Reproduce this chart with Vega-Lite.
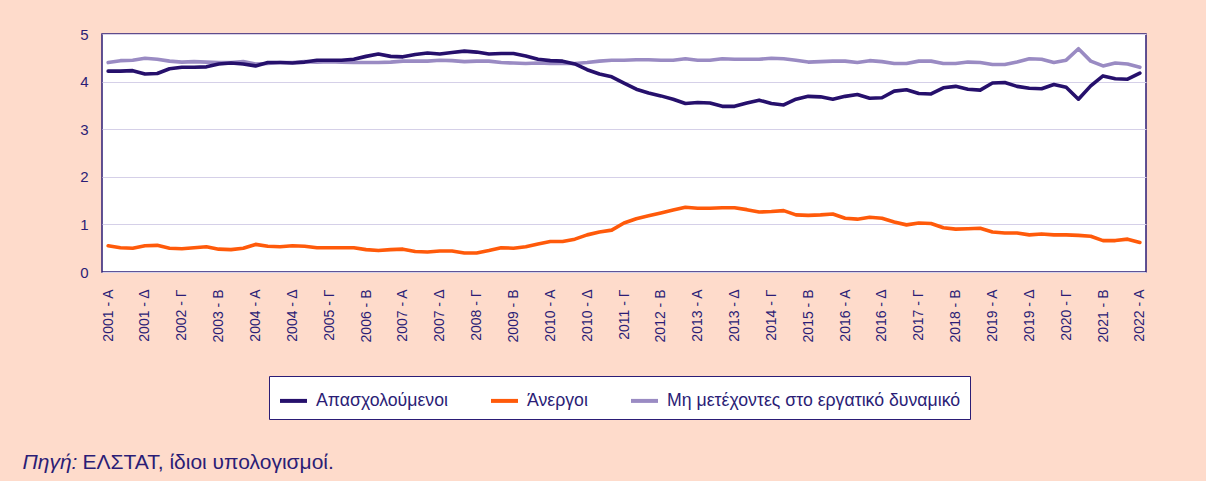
{
  "$schema": "https://vega.github.io/schema/vega-lite/v6.json",
  "width": 1044,
  "height": 238,
  "autosize": {"type": "none"},
  "padding": {"left": 102, "top": 34, "right": 60, "bottom": 209},
  "background": "#fedbcb",
  "data": {"values": [
    {"q": "2001 - Α", "Απασχολούμενοι": 4.22, "Άνεργοι": 0.55, "Μη μετέχοντες στο εργατικό δυναμικό": 4.40},
    {"q": "2001 - Β", "Απασχολούμενοι": 4.22, "Άνεργοι": 0.51, "Μη μετέχοντες στο εργατικό δυναμικό": 4.44},
    {"q": "2001 - Γ", "Απασχολούμενοι": 4.23, "Άνεργοι": 0.50, "Μη μετέχοντες στο εργατικό δυναμικό": 4.45},
    {"q": "2001 - Δ", "Απασχολούμενοι": 4.16, "Άνεργοι": 0.55, "Μη μετέχοντες στο εργατικό δυναμικό": 4.49},
    {"q": "2002 - Α", "Απασχολούμενοι": 4.17, "Άνεργοι": 0.56, "Μη μετέχοντες στο εργατικό δυναμικό": 4.47},
    {"q": "2002 - Β", "Απασχολούμενοι": 4.27, "Άνεργοι": 0.50, "Μη μετέχοντες στο εργατικό δυναμικό": 4.43},
    {"q": "2002 - Γ", "Απασχολούμενοι": 4.30, "Άνεργοι": 0.49, "Μη μετέχοντες στο εργατικό δυναμικό": 4.41},
    {"q": "2002 - Δ", "Απασχολούμενοι": 4.30, "Άνεργοι": 0.51, "Μη μετέχοντες στο εργατικό δυναμικό": 4.42},
    {"q": "2003 - Α", "Απασχολούμενοι": 4.31, "Άνεργοι": 0.53, "Μη μετέχοντες στο εργατικό δυναμικό": 4.41},
    {"q": "2003 - Β", "Απασχολούμενοι": 4.37, "Άνεργοι": 0.48, "Μη μετέχοντες στο εργατικό δυναμικό": 4.40},
    {"q": "2003 - Γ", "Απασχολούμενοι": 4.39, "Άνεργοι": 0.47, "Μη μετέχοντες στο εργατικό δυναμικό": 4.40},
    {"q": "2003 - Δ", "Απασχολούμενοι": 4.37, "Άνεργοι": 0.50, "Μη μετέχοντες στο εργατικό δυναμικό": 4.42},
    {"q": "2004 - Α", "Απασχολούμενοι": 4.33, "Άνεργοι": 0.58, "Μη μετέχοντες στο εργατικό δυναμικό": 4.37},
    {"q": "2004 - Β", "Απασχολούμενοι": 4.40, "Άνεργοι": 0.54, "Μη μετέχοντες στο εργατικό δυναμικό": 4.38},
    {"q": "2004 - Γ", "Απασχολούμενοι": 4.40, "Άνεργοι": 0.53, "Μη μετέχοντες στο εργατικό δυναμικό": 4.40},
    {"q": "2004 - Δ", "Απασχολούμενοι": 4.39, "Άνεργοι": 0.55, "Μη μετέχοντες στο εργατικό δυναμικό": 4.40},
    {"q": "2005 - Α", "Απασχολούμενοι": 4.41, "Άνεργοι": 0.54, "Μη μετέχοντες στο εργατικό δυναμικό": 4.42},
    {"q": "2005 - Β", "Απασχολούμενοι": 4.45, "Άνεργοι": 0.51, "Μη μετέχοντες στο εργατικό δυναμικό": 4.41},
    {"q": "2005 - Γ", "Απασχολούμενοι": 4.45, "Άνεργοι": 0.51, "Μη μετέχοντες στο εργατικό δυναμικό": 4.42},
    {"q": "2005 - Δ", "Απασχολούμενοι": 4.45, "Άνεργοι": 0.51, "Μη μετέχοντες στο εργατικό δυναμικό": 4.41},
    {"q": "2006 - Α", "Απασχολούμενοι": 4.47, "Άνεργοι": 0.51, "Μη μετέχοντες στο εργατικό δυναμικό": 4.40},
    {"q": "2006 - Β", "Απασχολούμενοι": 4.53, "Άνεργοι": 0.47, "Μη μετέχοντες στο εργατικό δυναμικό": 4.40},
    {"q": "2006 - Γ", "Απασχολούμενοι": 4.58, "Άνεργοι": 0.45, "Μη μετέχοντες στο εργατικό δυναμικό": 4.40},
    {"q": "2006 - Δ", "Απασχολούμενοι": 4.53, "Άνεργοι": 0.47, "Μη μετέχοντες στο εργατικό δυναμικό": 4.41},
    {"q": "2007 - Α", "Απασχολούμενοι": 4.52, "Άνεργοι": 0.48, "Μη μετέχοντες στο εργατικό δυναμικό": 4.43},
    {"q": "2007 - Β", "Απασχολούμενοι": 4.57, "Άνεργοι": 0.43, "Μη μετέχοντες στο εργατικό δυναμικό": 4.43},
    {"q": "2007 - Γ", "Απασχολούμενοι": 4.60, "Άνεργοι": 0.42, "Μη μετέχοντες στο εργατικό δυναμικό": 4.43},
    {"q": "2007 - Δ", "Απασχολούμενοι": 4.58, "Άνεργοι": 0.44, "Μη μετέχοντες στο εργατικό δυναμικό": 4.45},
    {"q": "2008 - Α", "Απασχολούμενοι": 4.61, "Άνεργοι": 0.44, "Μη μετέχοντες στο εργατικό δυναμικό": 4.44},
    {"q": "2008 - Β", "Απασχολούμενοι": 4.64, "Άνεργοι": 0.40, "Μη μετέχοντες στο εργατικό δυναμικό": 4.42},
    {"q": "2008 - Γ", "Απασχολούμενοι": 4.62, "Άνεργοι": 0.40, "Μη μετέχοντες στο εργατικό δυναμικό": 4.43},
    {"q": "2008 - Δ", "Απασχολούμενοι": 4.58, "Άνεργοι": 0.45, "Μη μετέχοντες στο εργατικό δυναμικό": 4.43},
    {"q": "2009 - Α", "Απασχολούμενοι": 4.59, "Άνεργοι": 0.51, "Μη μετέχοντες στο εργατικό δυναμικό": 4.40},
    {"q": "2009 - Β", "Απασχολούμενοι": 4.59, "Άνεργοι": 0.50, "Μη μετέχοντες στο εργατικό δυναμικό": 4.39},
    {"q": "2009 - Γ", "Απασχολούμενοι": 4.54, "Άνεργοι": 0.53, "Μη μετέχοντες στο εργατικό δυναμικό": 4.38},
    {"q": "2009 - Δ", "Απασχολούμενοι": 4.47, "Άνεργοι": 0.59, "Μη μετέχοντες στο εργατικό δυναμικό": 4.39},
    {"q": "2010 - Α", "Απασχολούμενοι": 4.44, "Άνεργοι": 0.64, "Μη μετέχοντες στο εργατικό δυναμικό": 4.38},
    {"q": "2010 - Β", "Απασχολούμενοι": 4.43, "Άνεργοι": 0.64, "Μη μετέχοντες στο εργατικό δυναμικό": 4.38},
    {"q": "2010 - Γ", "Απασχολούμενοι": 4.37, "Άνεργοι": 0.69, "Μη μετέχοντες στο εργατικό δυναμικό": 4.38},
    {"q": "2010 - Δ", "Απασχολούμενοι": 4.25, "Άνεργοι": 0.78, "Μη μετέχοντες στο εργατικό δυναμικό": 4.40},
    {"q": "2011 - Α", "Απασχολούμενοι": 4.16, "Άνεργοι": 0.84, "Μη μετέχοντες στο εργατικό δυναμικό": 4.43},
    {"q": "2011 - Β", "Απασχολούμενοι": 4.10, "Άνεργοι": 0.88, "Μη μετέχοντες στο εργατικό δυναμικό": 4.45},
    {"q": "2011 - Γ", "Απασχολούμενοι": 3.97, "Άνεργοι": 1.03, "Μη μετέχοντες στο εργατικό δυναμικό": 4.45},
    {"q": "2011 - Δ", "Απασχολούμενοι": 3.84, "Άνεργοι": 1.12, "Μη μετέχοντες στο εργατικό δυναμικό": 4.46},
    {"q": "2012 - Α", "Απασχολούμενοι": 3.76, "Άνεργοι": 1.18, "Μη μετέχοντες στο εργατικό δυναμικό": 4.46},
    {"q": "2012 - Β", "Απασχολούμενοι": 3.70, "Άνεργοι": 1.24, "Μη μετέχοντες στο εργατικό δυναμικό": 4.45},
    {"q": "2012 - Γ", "Απασχολούμενοι": 3.63, "Άνεργοι": 1.30, "Μη μετέχοντες στο εργατικό δυναμικό": 4.45},
    {"q": "2012 - Δ", "Απασχολούμενοι": 3.54, "Άνεργοι": 1.36, "Μη μετέχοντες στο εργατικό δυναμικό": 4.48},
    {"q": "2013 - Α", "Απασχολούμενοι": 3.56, "Άνεργοι": 1.34, "Μη μετέχοντες στο εργατικό δυναμικό": 4.45},
    {"q": "2013 - Β", "Απασχολούμενοι": 3.55, "Άνεργοι": 1.34, "Μη μετέχοντες στο εργατικό δυναμικό": 4.45},
    {"q": "2013 - Γ", "Απασχολούμενοι": 3.48, "Άνεργοι": 1.35, "Μη μετέχοντες στο εργατικό δυναμικό": 4.48},
    {"q": "2013 - Δ", "Απασχολούμενοι": 3.48, "Άνεργοι": 1.35, "Μη μετέχοντες στο εργατικό δυναμικό": 4.47},
    {"q": "2014 - Α", "Απασχολούμενοι": 3.55, "Άνεργοι": 1.31, "Μη μετέχοντες στο εργατικό δυναμικό": 4.47},
    {"q": "2014 - Β", "Απασχολούμενοι": 3.61, "Άνεργοι": 1.26, "Μη μετέχοντες στο εργατικό δυναμικό": 4.47},
    {"q": "2014 - Γ", "Απασχολούμενοι": 3.54, "Άνεργοι": 1.27, "Μη μετέχοντες στο εργατικό δυναμικό": 4.49},
    {"q": "2014 - Δ", "Απασχολούμενοι": 3.51, "Άνεργοι": 1.29, "Μη μετέχοντες στο εργατικό δυναμικό": 4.48},
    {"q": "2015 - Α", "Απασχολούμενοι": 3.63, "Άνεργοι": 1.20, "Μη μετέχοντες στο εργατικό δυναμικό": 4.45},
    {"q": "2015 - Β", "Απασχολούμενοι": 3.69, "Άνεργοι": 1.19, "Μη μετέχοντες στο εργατικό δυναμικό": 4.41},
    {"q": "2015 - Γ", "Απασχολούμενοι": 3.68, "Άνεργοι": 1.20, "Μη μετέχοντες στο εργατικό δυναμικό": 4.42},
    {"q": "2015 - Δ", "Απασχολούμενοι": 3.63, "Άνεργοι": 1.22, "Μη μετέχοντες στο εργατικό δυναμικό": 4.43},
    {"q": "2016 - Α", "Απασχολούμενοι": 3.69, "Άνεργοι": 1.13, "Μη μετέχοντες στο εργατικό δυναμικό": 4.43},
    {"q": "2016 - Β", "Απασχολούμενοι": 3.73, "Άνεργοι": 1.11, "Μη μετέχοντες στο εργατικό δυναμικό": 4.40},
    {"q": "2016 - Γ", "Απασχολούμενοι": 3.65, "Άνεργοι": 1.15, "Μη μετέχοντες στο εργατικό δυναμικό": 4.44},
    {"q": "2016 - Δ", "Απασχολούμενοι": 3.66, "Άνεργοι": 1.13, "Μη μετέχοντες στο εργατικό δυναμικό": 4.42},
    {"q": "2017 - Α", "Απασχολούμενοι": 3.80, "Άνεργοι": 1.05, "Μη μετέχοντες στο εργατικό δυναμικό": 4.38},
    {"q": "2017 - Β", "Απασχολούμενοι": 3.83, "Άνεργοι": 0.99, "Μη μετέχοντες στο εργατικό δυναμικό": 4.38},
    {"q": "2017 - Γ", "Απασχολούμενοι": 3.75, "Άνεργοι": 1.03, "Μη μετέχοντες στο εργατικό δυναμικό": 4.43},
    {"q": "2017 - Δ", "Απασχολούμενοι": 3.74, "Άνεργοι": 1.02, "Μη μετέχοντες στο εργατικό δυναμικό": 4.43},
    {"q": "2018 - Α", "Απασχολούμενοι": 3.87, "Άνεργοι": 0.93, "Μη μετέχοντες στο εργατικό δυναμικό": 4.38},
    {"q": "2018 - Β", "Απασχολούμενοι": 3.90, "Άνεργοι": 0.90, "Μη μετέχοντες στο εργατικό δυναμικό": 4.38},
    {"q": "2018 - Γ", "Απασχολούμενοι": 3.84, "Άνεργοι": 0.91, "Μη μετέχοντες στο εργατικό δυναμικό": 4.41},
    {"q": "2018 - Δ", "Απασχολούμενοι": 3.82, "Άνεργοι": 0.92, "Μη μετέχοντες στο εργατικό δυναμικό": 4.40},
    {"q": "2019 - Α", "Απασχολούμενοι": 3.97, "Άνεργοι": 0.84, "Μη μετέχοντες στο εργατικό δυναμικό": 4.36},
    {"q": "2019 - Β", "Απασχολούμενοι": 3.98, "Άνεργοι": 0.82, "Μη μετέχοντες στο εργατικό δυναμικό": 4.36},
    {"q": "2019 - Γ", "Απασχολούμενοι": 3.90, "Άνεργοι": 0.82, "Μη μετέχοντες στο εργατικό δυναμικό": 4.41},
    {"q": "2019 - Δ", "Απασχολούμενοι": 3.86, "Άνεργοι": 0.78, "Μη μετέχοντες στο εργατικό δυναμικό": 4.48},
    {"q": "2020 - Α", "Απασχολούμενοι": 3.85, "Άνεργοι": 0.80, "Μη μετέχοντες στο εργατικό δυναμικό": 4.47},
    {"q": "2020 - Β", "Απασχολούμενοι": 3.94, "Άνεργοι": 0.78, "Μη μετέχοντες στο εργατικό δυναμικό": 4.40},
    {"q": "2020 - Γ", "Απασχολούμενοι": 3.88, "Άνεργοι": 0.78, "Μη μετέχοντες στο εργατικό δυναμικό": 4.45},
    {"q": "2020 - Δ", "Απασχολούμενοι": 3.63, "Άνεργοι": 0.77, "Μη μετέχοντες στο εργατικό δυναμικό": 4.69},
    {"q": "2021 - Α", "Απασχολούμενοι": 3.91, "Άνεργοι": 0.75, "Μη μετέχοντες στο εργατικό δυναμικό": 4.43},
    {"q": "2021 - Β", "Απασχολούμενοι": 4.12, "Άνεργοι": 0.66, "Μη μετέχοντες στο εργατικό δυναμικό": 4.33},
    {"q": "2021 - Γ", "Απασχολούμενοι": 4.06, "Άνεργοι": 0.66, "Μη μετέχοντες στο εργατικό δυναμικό": 4.39},
    {"q": "2021 - Δ", "Απασχολούμενοι": 4.05, "Άνεργοι": 0.69, "Μη μετέχοντες στο εργατικό δυναμικό": 4.37},
    {"q": "2022 - Α", "Απασχολούμενοι": 4.18, "Άνεργοι": 0.62, "Μη μετέχοντες στο εργατικό δυναμικό": 4.30}
  ]},
  "transform": [
    {"fold": ["Μη μετέχοντες στο εργατικό δυναμικό", "Άνεργοι", "Απασχολούμενοι"], "as": ["series", "value"]}
  ],
  "mark": {"type": "line", "strokeWidth": 3.6, "strokeJoin": "round", "strokeCap": "round"},
  "encoding": {
    "x": {
      "field": "q", "type": "ordinal", "sort": null,
      "scale": {"type": "point", "padding": 0.5},
      "axis": {
        "values": ["2001 - Α", "2001 - Δ", "2002 - Γ", "2003 - Β", "2004 - Α", "2004 - Δ", "2005 - Γ", "2006 - Β", "2007 - Α", "2007 - Δ", "2008 - Γ", "2009 - Β", "2010 - Α", "2010 - Δ", "2011 - Γ", "2012 - Β", "2013 - Α", "2013 - Δ", "2014 - Γ", "2015 - Β", "2016 - Α", "2016 - Δ", "2017 - Γ", "2018 - Β", "2019 - Α", "2019 - Δ", "2020 - Γ", "2021 - Β", "2022 - Α"],
        "labelAngle": -90, "labelFontSize": 14, "labelColor": "#2b1d76", "labelPadding": 17,
        "ticks": false, "tickSize": 0, "domain": false, "grid": false,
        "title": "Πηγή:", "titleX": -80, "titleY": 196, "titleAngle": 0,
        "titleAlign": "left", "titleBaseline": "alphabetic", "titleAnchor": null,
        "titleFontStyle": "italic", "titleFontWeight": "normal", "titleFontSize": 21, "titleColor": "#2b1d76"
      }
    },
    "y": {
      "field": "value", "type": "quantitative",
      "scale": {"domain": [0, 5]},
      "axis": {
        "values": [0, 1, 2, 3, 4, 5],
        "labelFontSize": 15, "labelColor": "#2b1d76", "labelPadding": 14,
        "ticks": false, "tickSize": 0, "domain": false,
        "grid": true, "gridColor": "#d5d0e8", "gridWidth": 1.2,
        "title": "ΕΛΣΤΑΤ, ίδιοι υπολογισμοί.", "titleX": -20, "titleY": 434, "titleAngle": 0,
        "titleAlign": "left", "titleBaseline": "alphabetic", "titleAnchor": null,
        "titleFontStyle": "normal", "titleFontWeight": "normal", "titleFontSize": 21, "titleColor": "#2b1d76"
      }
    },
    "color": {
      "field": "series", "type": "nominal",
      "scale": {
        "domain": ["Απασχολούμενοι", "Άνεργοι", "Μη μετέχοντες στο εργατικό δυναμικό"],
        "range": ["#26106c", "#ff5a0a", "#9a8bc3"]
      },
      "legend": {
        "orient": "none", "legendX": 167, "legendY": 342, "direction": "horizontal",
        "title": null, "fillColor": "white", "strokeColor": "#2b1d76", "padding": 9,
        "symbolType": "stroke", "symbolSize": 729, "symbolStrokeWidth": 4,
        "labelFontSize": 17.7, "labelColor": "#2b1d76", "labelOffset": 7, "labelLimit": 500,
        "columnPadding": 35
      }
    }
  },
  "config": {
    "font": "Liberation Sans",
    "view": {"stroke": "#2b1d76", "strokeWidth": 1.5, "fill": "white"}
  }
}
